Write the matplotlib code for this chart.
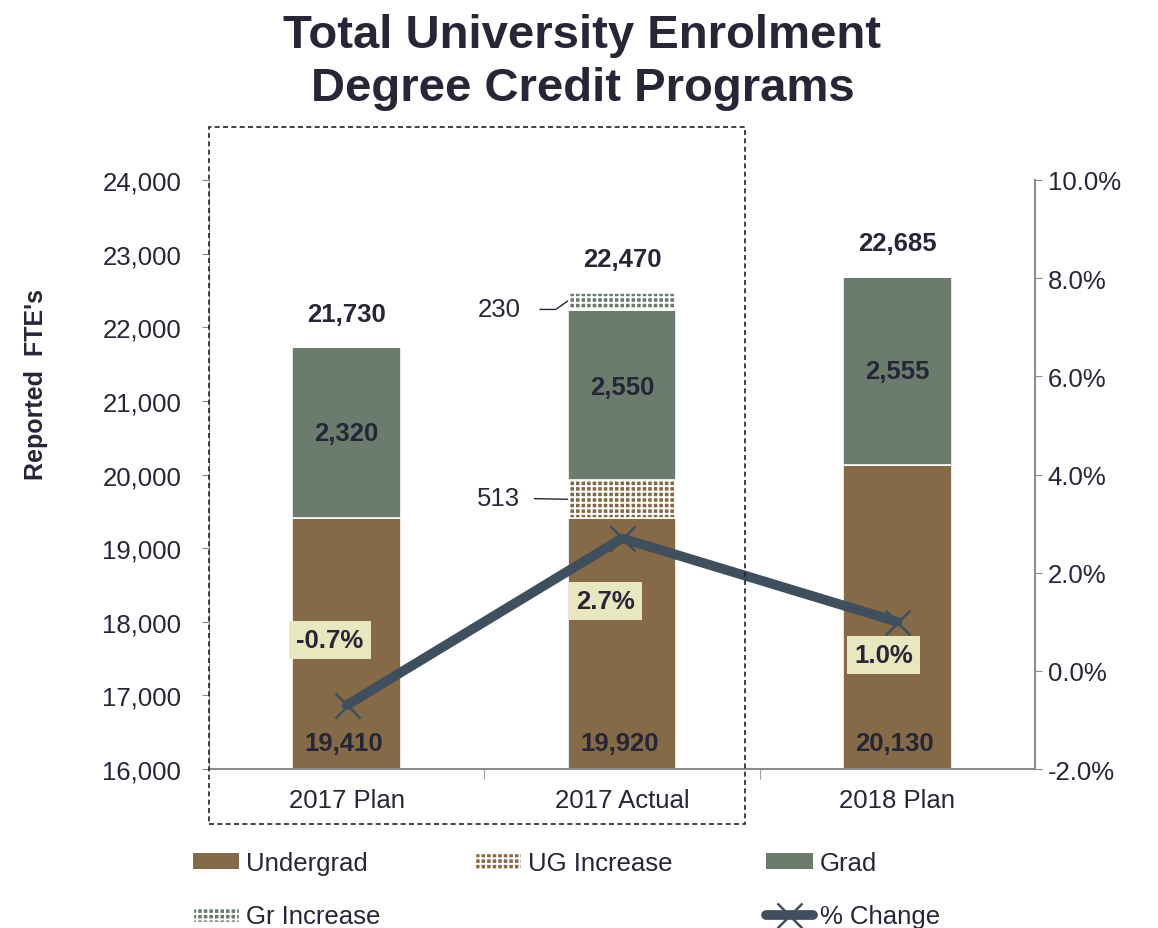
import matplotlib.pyplot as plt
import matplotlib.patches as mpatches
from matplotlib.lines import Line2D
from matplotlib.ticker import FuncFormatter, FixedLocator

plt.rcParams['font.family'] = ['Liberation Sans', 'DejaVu Sans']
plt.rcParams['hatch.linewidth'] = 1.4

# enrolment (FTE) by plan year
categories = ['2017 Plan', '2017 Actual', '2018 Plan']
undergrad = [19410, 19920, 20130]
ug_increase = [0, 513, 0]
grad = [2320, 2550, 2555]
gr_increase = [0, 230, 0]
pct_change = [-0.7, 2.7, 1.0]

totals = [u + g for u, g in zip(undergrad, grad)]
ug_base = [u - i for u, i in zip(undergrad, ug_increase)]
gr_base = [g - i for g, i in zip(grad, gr_increase)]

c_ug = '#856a48'
c_gr = '#6b7b6e'
c_line = '#404f5e'
c_text = '#262636'
c_axis = '#8c8c8c'
fs = 18.5
hatch = '+++'

fig = plt.figure(figsize=(11.58, 9.29), dpi=100)
ax = fig.add_axes([0.1805, 0.1711, 0.7133, 0.6341])
x = list(range(len(categories)))
w = 0.395

b0 = [16000] * 3
ax.bar(x, [b - 16000 for b in ug_base], w, bottom=b0, color=c_ug,
       edgecolor='white', linewidth=1.2, zorder=2)
b1 = ug_base
ax.bar(x, ug_increase, w, bottom=b1, color=c_ug, hatch=hatch,
       edgecolor='white', linewidth=1.2, zorder=2)
b2 = undergrad
ax.bar(x, gr_base, w, bottom=b2, color=c_gr,
       edgecolor='white', linewidth=1.2, zorder=2)
b3 = [u + g for u, g in zip(undergrad, gr_base)]
ax.bar(x, gr_increase, w, bottom=b3, color=c_gr, hatch=hatch,
       edgecolor='white', linewidth=1.2, zorder=2)

ax.set_xlim(-0.5, 2.5)
ax.set_ylim(16000, 24000)
ax.set_yticks(range(16000, 24001, 1000))
ax.yaxis.set_major_formatter(FuncFormatter(lambda v, p: f'{int(v):,}'))
ax.set_xticks(x)
ax.set_xticklabels(categories)
ax.xaxis.set_minor_locator(FixedLocator([0.5, 1.5]))
ax.tick_params(axis='x', which='major', length=0, pad=14, labelsize=fs,
               labelcolor=c_text)
ax.tick_params(axis='x', which='minor', length=7, color=c_axis)
ax.tick_params(axis='y', length=5, color=c_axis, labelsize=fs,
               labelcolor=c_text, pad=15)
for s in ['top', 'right']:
    ax.spines[s].set_visible(False)
ax.spines['left'].set_color(c_axis)
ax.spines['bottom'].set_color(c_axis)
ax.spines['bottom'].set_linewidth(1.5)

# value labels on the bars
for i in x:
    ax.annotate(f'{totals[i]:,}', (i, totals[i]), xytext=(0, 24),
                textcoords='offset points', ha='center', va='center',
                fontsize=fs, fontweight='bold', color=c_text)
    ax.annotate(f'{undergrad[i]:,}', (i, 16000), xytext=(-2, 19),
                textcoords='offset points', ha='center', va='center',
                fontsize=fs, fontweight='bold', color=c_text)
    ax.text(i, undergrad[i] + grad[i] / 2, f'{grad[i]:,}', ha='center',
            va='center', fontsize=fs, fontweight='bold', color=c_text)

# leader labels for the increases
i = 1
ax.annotate(f'{gr_increase[i]}', (i - w / 2, b3[i] + gr_increase[i] / 2),
            xytext=(-34, -6), textcoords='offset points', ha='right',
            va='center', fontsize=fs, color=c_text,
            arrowprops=dict(arrowstyle='-', color=c_text, lw=1,
                            shrinkA=12, shrinkB=0,
                            connectionstyle='angle,angleA=0,angleB=35,rad=0'))
ax.annotate(f'{ug_increase[i]}', (i - w / 2, b1[i] + ug_increase[i] / 2),
            xytext=(-34, 1), textcoords='offset points', ha='right',
            va='center', fontsize=fs, color=c_text,
            arrowprops=dict(arrowstyle='-', color=c_text, lw=1,
                            shrinkA=8, shrinkB=0))

# percent change on the right axis
ax2 = ax.twinx()
ax2.set_ylim(-2, 10)
ax2.set_yticks(range(-2, 11, 2))
ax2.yaxis.set_major_formatter(FuncFormatter(lambda v, p: f'{v:.1f}%'))
ax2.tick_params(axis='y', length=5, color=c_axis, labelsize=fs,
                labelcolor=c_text, pad=4)
for s in ['top', 'left', 'bottom']:
    ax2.spines[s].set_visible(False)
ax2.spines['right'].set_color(c_axis)
ax2.spines['right'].set_linewidth(1.5)
ax2.plot(x, pct_change, color=c_line, lw=7, marker='x', markersize=18,
         markeredgewidth=1.8, solid_capstyle='round', zorder=3)

offsets = [(-12, 47), (-12, -45), (-10, -24)]
for i in x:
    ax2.annotate(f'{pct_change[i]:.1f}%', (i, pct_change[i]),
                 xytext=offsets[i], textcoords='offset points',
                 ha='center', va='center', fontsize=fs, fontweight='bold',
                 color=c_text,
                 bbox=dict(boxstyle='square,pad=0.27', fc='#e8e7c0', ec='none'))

fig.text(0.031, 0.586, "Reported  FTE's", rotation=90, ha='center',
         va='center', fontsize=18, fontweight='bold', color=c_text)
fig.text(0.503, 0.985, 'Total University Enrolment\nDegree Credit Programs',
         ha='center', va='top', fontsize=34, fontweight='bold',
         color=c_text, linespacing=1.27)

# dashed frame round the 2017 columns
fig.patches.append(mpatches.Rectangle((0.1805, 0.1119), 0.4629, 0.7503,
                                      transform=fig.transFigure, fill=False,
                                      ec='#222222', lw=1.2, ls=(0, (3, 2))))

handles = [
    mpatches.Patch(fc=c_ug, ec='none'),
    mpatches.Patch(fc=c_gr, hatch=hatch, ec='white'),
    mpatches.Patch(fc=c_ug, hatch=hatch, ec='white'),
    mpatches.Patch(fc='none', ec='none'),
    mpatches.Patch(fc=c_gr, ec='none'),
    Line2D([], [], color=c_line, lw=7, marker='x', markersize=18,
           markeredgewidth=1.8, solid_capstyle='round'),
]
labels = ['Undergrad', 'Gr Increase', 'UG Increase', '', 'Grad', '% Change']
fig.legend(handles, labels, ncol=3, loc='upper left',
           bbox_to_anchor=(0.1667, 0.083), frameon=False, fontsize=fs,
           borderpad=0, borderaxespad=0,
           handlelength=1.8, handleheight=0.55, handletextpad=0.28,
           columnspacing=3.65, labelspacing=1.15, labelcolor=c_text)

fig.savefig('out.png', dpi=100)
